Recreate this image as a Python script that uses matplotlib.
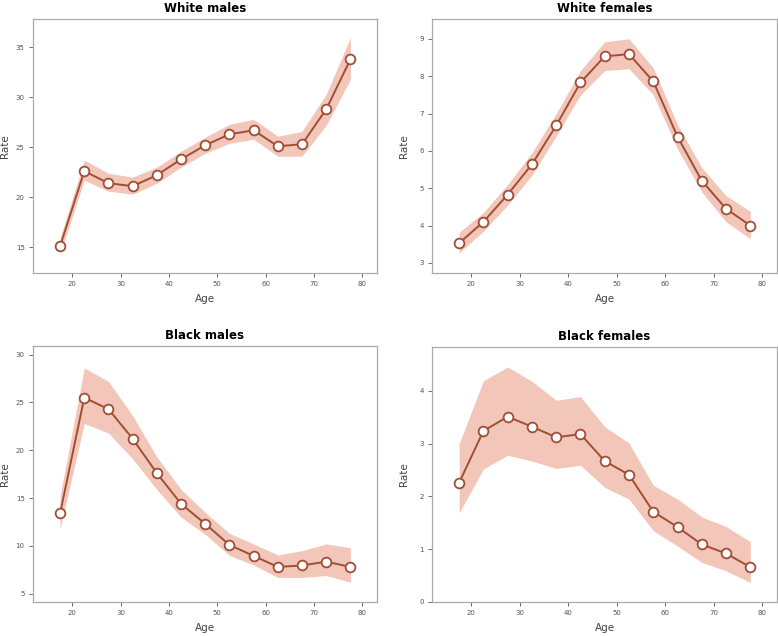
import matplotlib
matplotlib.use("Agg")
import matplotlib.pyplot as plt

# age group midpoints
ages = [17.5, 22.5, 27.5, 32.5, 37.5, 42.5, 47.5, 52.5, 57.5, 62.5, 67.5, 72.5, 77.5]

# White males
wm_rate = [15.1, 22.6, 21.4, 21.1, 22.2, 23.8, 25.2, 26.3, 26.7, 25.1, 25.3, 28.8, 33.8]
wm_low = [14.3, 21.7, 20.6, 20.3, 21.4, 23.0, 24.4, 25.4, 25.8, 24.1, 24.1, 27.2, 31.8]
wm_high = [15.9, 23.7, 22.4, 22.0, 23.0, 24.6, 26.0, 27.3, 27.8, 26.1, 26.6, 30.3, 36.0]

# White females
wf_rate = [3.53, 4.10, 4.83, 5.64, 6.68, 7.83, 8.53, 8.59, 7.86, 6.38, 5.20, 4.45, 4.00]
wf_low = [3.27, 3.85, 4.55, 5.35, 6.40, 7.50, 8.15, 8.20, 7.50, 6.05, 4.90, 4.10, 3.65]
wf_high = [3.82, 4.35, 5.10, 5.95, 7.00, 8.15, 8.92, 9.00, 8.22, 6.70, 5.55, 4.80, 4.38]

# Black males
bm_rate = [13.4, 25.5, 24.3, 21.2, 17.6, 14.4, 12.3, 10.1, 8.95, 7.8, 7.95, 8.35, 7.8]
bm_low = [11.8, 22.8, 21.8, 19.1, 15.9, 13.0, 11.2, 9.0, 8.0, 6.7, 6.7, 6.9, 6.2]
bm_high = [15.2, 28.6, 27.2, 23.6, 19.3, 15.9, 13.5, 11.3, 10.2, 9.05, 9.5, 10.2, 9.8]

# Black females
bf_rate = [2.26, 3.24, 3.51, 3.32, 3.12, 3.18, 2.67, 2.41, 1.71, 1.42, 1.09, 0.92, 0.66]
bf_low = [1.69, 2.52, 2.78, 2.67, 2.53, 2.59, 2.17, 1.95, 1.35, 1.06, 0.75, 0.59, 0.37]
bf_high = [3.00, 4.19, 4.45, 4.18, 3.82, 3.89, 3.32, 3.01, 2.21, 1.95, 1.61, 1.43, 1.14]

titles = ["White males", "White females", "Black males", "Black females"]
line_col = "#a04e35"
fill_col = "#f2c6b8"

fig = plt.figure(figsize=(7.78, 6.36), dpi=100)

# axes boxes in pixels: left, top, right, bottom
boxes = [(33, 18.5, 377, 273), (432, 19, 777, 273), (33, 346, 377, 602), (432, 347, 777, 602)]
ylims = [(12.4, 37.9), (2.73, 9.53), (4.13, 30.9), (0, 4.83)]
yticks = [[15, 20, 25, 30, 35], [3, 4, 5, 6, 7, 8, 9], [5, 10, 15, 20, 25, 30], [0, 1, 2, 3, 4]]
series = [(wm_rate, wm_low, wm_high), (wf_rate, wf_low, wf_high),
          (bm_rate, bm_low, bm_high), (bf_rate, bf_low, bf_high)]

for i in range(4):
    l, t, r, b = boxes[i]
    ax = fig.add_axes([l / 778, 1 - b / 636, (r - l) / 778, (b - t) / 636])
    rate, low, high = series[i]
    ax.fill_between(ages, low, high, color=fill_col, lw=0)
    ax.plot(ages, rate, color=line_col, lw=1.4, marker="o", ms=7,
            mfc="white", mec=line_col, mew=1.3)
    ax.set_xlim(11.9, 83.0)
    ax.set_ylim(*ylims[i])
    ax.set_xticks([20, 30, 40, 50, 60, 70, 80])
    ax.set_yticks(yticks[i])
    ax.tick_params(labelsize=5, colors="#555555", length=3, width=0.6, pad=3)
    for s in ax.spines.values():
        s.set_color("#aaaaaa")
        s.set_linewidth(0.9)
    ax.set_title(titles[i], fontsize=8.5, fontweight="bold", pad=5)
    ax.set_xlabel("Age", fontsize=7.5, color="#444444", labelpad=5)
    ax.set_ylabel("Rate", fontsize=7.5, color="#444444")
    # R-style: ylabel sits close to the figure edge
    ax.yaxis.set_label_coords(-23.5 / (r - l), 0.5)

fig.savefig("out.png", dpi=100)
